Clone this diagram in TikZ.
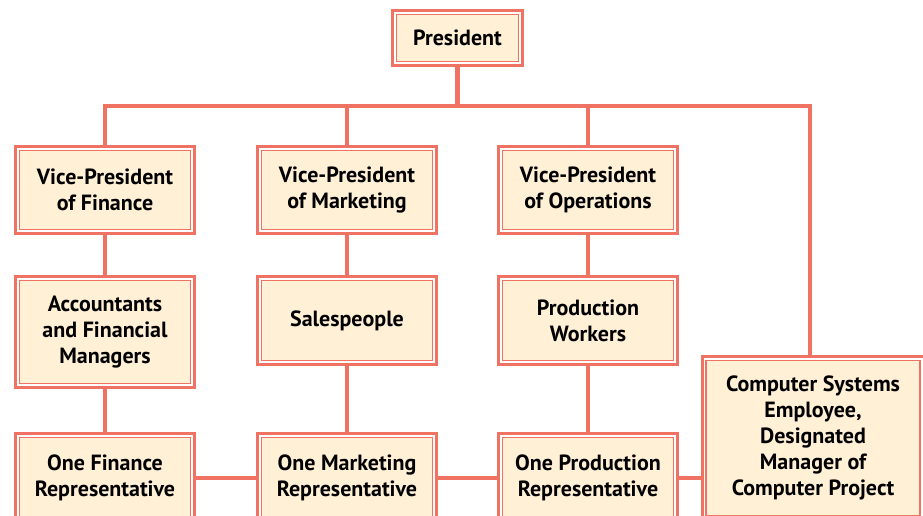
\documentclass[tikz,border=0pt]{standalone}
\usepackage{fontspec}
\setmainfont{PT Sans}
\usepackage{tikz}

\definecolor{salmon}{RGB}{240,114,98}
\definecolor{cream}{RGB}{255,240,214}

\tikzset{
  orgbox/.style={draw=salmon, line width=3pt, fill=white, align=center,
    font=\fontsize{22}{26}\selectfont\bfseries,
    path picture={\draw[salmon, line width=1.2pt, fill=cream]
      ([shift={(4pt,4pt)}]path picture bounding box.south west) rectangle
      ([shift={(-4pt,-4pt)}]path picture bounding box.north east);}},
  conn/.style={draw=salmon, line width=4.5pt}
}

\begin{document}
\begin{tikzpicture}[x=1pt, y=-1pt]
  \useasboundingbox (0,0) rectangle (923,516);
  \clip (0,0) rectangle (923,516);

  \node[orgbox, minimum width=130pt, minimum height=55pt] (pres) at (457.5,38) {President};

  \node[orgbox, minimum width=179pt, minimum height=87pt] (vpfin) at (105,190) {Vice-President\\of Finance};
  \node[orgbox, minimum width=179pt, minimum height=87pt] (vpmkt) at (347,190) {Vice-President\\of Marketing};
  \node[orgbox, minimum width=179pt, minimum height=87pt] (vpops) at (588,190) {Vice-President\\of Operations};

  \node[orgbox, minimum width=179pt, minimum height=111pt] (acct) at (105,332) {Accountants\\and Financial\\Managers};
  \node[orgbox, minimum width=179pt, minimum height=88pt] (sales) at (347,320.5) {Salespeople};
  \node[orgbox, minimum width=179pt, minimum height=88pt] (prodw) at (588,320.5) {Production\\Workers};

  \node[orgbox, minimum width=179pt, minimum height=89pt] (finrep) at (105,478) {One Finance\\Representative};
  \node[orgbox, minimum width=179pt, minimum height=89pt] (mktrep) at (347,478) {One Marketing\\Representative};
  \node[orgbox, minimum width=179pt, minimum height=89pt] (prodrep) at (588,478) {One Production\\Representative};

  \node[orgbox, minimum width=222pt, minimum height=163pt] (comp) at (813,438) {Computer Systems\\Employee,\\Designated\\Manager of\\Computer Project};

  \coordinate (bar) at (457.5,106);
  \draw[conn] (pres) -- (bar);
  \draw[conn] (vpfin.north) |- (bar) -| (810,0 |- comp.north);
  \draw[conn] (vpmkt) -- (vpmkt |- bar);
  \draw[conn] (vpops) -- (vpops |- bar);

  \draw[conn] (vpfin) -- (acct);
  \draw[conn] (acct) -- (finrep);
  \draw[conn] (vpmkt) -- (sales);
  \draw[conn] (sales) -- (mktrep);
  \draw[conn] (vpops) -- (prodw);
  \draw[conn] (prodw) -- (prodrep);

  \draw[conn] (finrep) -- (mktrep);
  \draw[conn] (mktrep) -- (prodrep);
  \draw[conn] (prodrep.east) -- (prodrep.east -| comp.west);
\end{tikzpicture}
\end{document}
